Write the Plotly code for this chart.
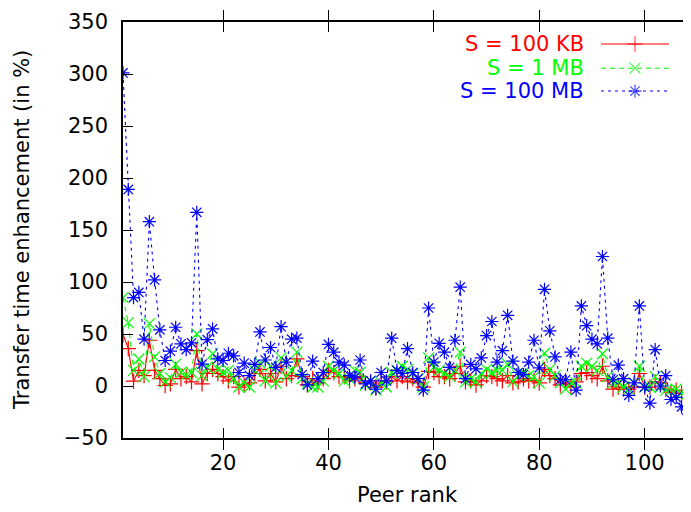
import plotly.graph_objects as go

# ---------------- data ----------------
peer_rank = list(range(1, 109))

s_100kb = [49.5, 36, 4.6, 15, 10, 44, 15, 7, 0.5, 2,
           16, 7, 9, 4, 34, 2, 12, 16, 12, 9,
           5, 9, -1, 1, 3, 12, 16, 5, 12, 4,
           19, 7, 10, 26, 9, 1, 7, 3, 7, 15,
           13, 9, 9, 5, 7, 9, 3, 3, -1, 5,
           4, 9, 5, 9, 4, 7, 3, -1, 14, 13,
           9, 9, 7, 12, 19, 4, 5, 1, 5, 10,
           9, 7, 5, 10, 3, 4, 7, 5, 5, 3,
           16, 10, 7, 1, 3, -1, 4, 12, 13, 10,
           7, 19, 5, -3, -1, -3, -3, -1, 12, -1,
           -1, 4, 3, -3, -6, -4, -7, -6]

s_1mb = [85, 61, 15, 26, 9, 60, 28, 12, 4, 8,
         21, 13, 11, 13, 50, 10, 18, 31, 16, 13,
         15, 7, -1, 3, -1, 15, 22, 5, 19, 3,
         27, 9, 15, 32.5, 7, 3, -1, -1, 5, 19,
         15, 12, 5, 7, 15, 13, 1, 5, -4, 3,
         -1, 13, 15, 19, 16, 12, 7, -1, 27, 18,
         15, 12, 9, 15, 32.5, 4, 7, 4, 12, 16,
         13, 15, 15, 21, 4, 10, 13, 10, 9, 3,
         31.5, 16, 10, 3, -3, 3, 3, 19, 22, 19,
         15, 31, 9, 3, 3, -1, -3, 3, 19, -1,
         -1, 9, -1, -4, -4, -3, -7, -8]

s_100mb = [301, 189, 85, 90, 45, 158, 102, 54, 24.5, 33.5,
           56.5, 40.5, 35, 41.5, 167, 21, 44.5, 55, 26, 24.5,
           31.5, 29, 13, 22, 10, 20.7, 52, 25, 37, 18,
           57, 23, 45, 46, 11, 1, 24, 7, 13, 40,
           32.5, 23, 20, 10, 8.5, 25, 2, 5, -3, 13,
           5, 46, 15, 12, 36, 13, 7, -4, 75, 23,
           41, 32.5, 18, 44, 95, 7, 20.7, 16.5, 27, 48.5,
           62, 23, 34, 68, 24, 13, 11, 23, 44, 17.5,
           93, 53, 28, 6, 6, 32.5, -4, 77, 58, 45,
           40.5, 124.5, 46, 6, 20, 7, -9, 3, 77, -1,
           -16.5, 35, 0, 10, -13, -11, -20, -23]

series_names = ["S = 100 KB", "S = 1 MB", "S = 100 MB"]
series_values = [s_100kb, s_1mb, s_100mb]

x_ticks = [20, 40, 60, 80, 100]
y_ticks = [-50, 0, 50, 100, 150, 200, 250, 300, 350]

# ---------------- style ----------------
colors = ["#ff0000", "#00ff00", "#0000ff"]
symbols = ["cross-thin", "x-thin", "asterisk"]
dashes = ["solid", "5px,4px", "3px,4px"]
FONT = "DejaVu Sans"
FS = 21

fig = go.Figure()

for name, vals, col, sym, dsh in zip(series_names, series_values, colors, symbols, dashes):
    fig.add_trace(go.Scatter(
        x=peer_rank, y=vals, mode="lines+markers", name=name,
        line=dict(color=col, width=1.1, dash=dsh),
        marker=dict(symbol=sym, size=11, color=col, line=dict(color=col, width=1.2)),
        showlegend=False, cliponaxis=True,
    ))

# custom gnuplot-style key (text left of sample)
key_x = [0.8415, 0.9014, 0.9613]
key_rows = [0.947, 0.889, 0.834]
key_text_x = 0.815
for name, col, sym, dsh, ky in zip(series_names, colors, symbols, dashes, key_rows):
    fig.add_trace(go.Scatter(
        x=key_x, y=[ky, ky, ky], xaxis="x2", yaxis="y2", mode="lines+markers",
        line=dict(color=col, width=1.1, dash=dsh),
        marker=dict(symbol=sym, size=[0, 11, 0], color=col, line=dict(color=col, width=1.2)),
        showlegend=False, hoverinfo="skip",
    ))
    fig.add_annotation(x=key_text_x, y=ky, xref="paper", yref="paper", text=name,
                       showarrow=False, xanchor="right", yanchor="middle",
                       font=dict(family=FONT, size=FS, color=col))

axis_common = dict(showgrid=False, zeroline=False, ticks="inside", ticklen=10,
                   tickwidth=1.3, tickcolor="black", linecolor="black", linewidth=1.5,
                   tickfont=dict(family=FONT, size=FS, color="black"))

# the page body adds an 8px offset, so the figure is 8px smaller than the window
fig.update_layout(
    width=683, height=504,
    margin=dict(l=115, r=0, t=14, b=74),
    paper_bgcolor="white", plot_bgcolor="white",
    showlegend=False,
    xaxis=dict(range=[1, 108.8], tickvals=x_ticks, showline=True, mirror="allticks",
               ticklabelstandoff=5, **axis_common),
    yaxis=dict(range=[-50, 350], tickvals=y_ticks, showline=True, mirror=False,
               ticklabelstandoff=9, **axis_common),
    yaxis3=dict(range=[-50, 350], tickvals=y_ticks, overlaying="y", side="right",
                showticklabels=False, showline=False, showgrid=False, zeroline=False,
                ticks="inside", ticklen=3, tickwidth=1.3, tickcolor="black"),
    xaxis2=dict(range=[0, 1], overlaying="x", visible=False, anchor="y2"),
    yaxis2=dict(range=[0, 1], overlaying="y", visible=False, anchor="x2"),
)

# invisible trace so the right-side tick axis is drawn
fig.add_trace(go.Scatter(x=[peer_rank[0]], y=[y_ticks[0]], yaxis="y3", mode="markers",
                         marker=dict(opacity=0), showlegend=False, hoverinfo="skip"))

fig.add_annotation(x=-0.178, y=0.5, xref="paper", yref="paper",
                   text="Transfer time enhancement (in %)", textangle=-90,
                   showarrow=False, xanchor="center", yanchor="middle",
                   font=dict(family=FONT, size=FS, color="black"))
fig.add_annotation(x=0.5, y=-0.138, xref="paper", yref="paper", text="Peer rank",
                   showarrow=False, xanchor="center", yanchor="middle",
                   font=dict(family=FONT, size=FS, color="black"))

fig.write_html("out.html")
